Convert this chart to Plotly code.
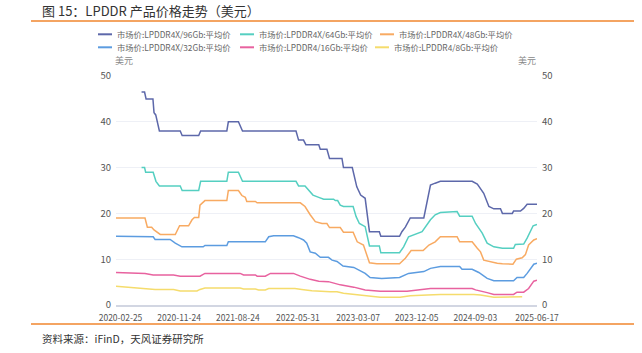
import plotly.graph_objects as go

# ---------------- data ----------------
names = ["市场价:LPDDR4X/96Gb:平均价", "市场价:LPDDR4X/64Gb:平均价", "市场价:LPDDR4X/48Gb:平均价",
         "市场价:LPDDR4X/32Gb:平均价", "市场价:LPDDR4/16Gb:平均价", "市场价:LPDDR4/8Gb:平均价"]
colors = ["#5d68aa", "#55cfc1", "#f8aa62", "#5c9ce0", "#e8629f", "#f5dc6c"]

d96 = ["2020-06-02", "2020-06-16", "2020-06-23", "2020-07-25", "2020-07-30", "2020-08-07", "2020-08-24",
       "2020-11-29", "2020-12-08", "2021-02-23", "2021-03-04", "2021-07-04", "2021-07-11", "2021-08-27",
       "2021-09-15", "2022-05-22", "2022-06-03", "2022-06-26", "2022-07-07", "2022-09-05", "2022-09-12",
       "2022-10-13", "2022-10-25", "2022-12-22", "2022-12-29", "2023-02-08", "2023-03-01", "2023-03-19",
       "2023-04-09", "2023-04-29", "2023-06-14", "2023-06-21", "2023-09-16", "2023-09-27", "2023-10-13",
       "2023-11-05", "2024-01-07", "2024-01-19", "2024-02-07", "2024-02-29", "2024-03-24", "2024-08-19",
       "2024-09-12", "2024-10-12", "2024-11-05", "2024-11-28", "2024-12-29", "2025-01-07", "2025-02-22",
       "2025-02-28", "2025-04-01", "2025-04-16", "2025-05-02", "2025-06-17"]
v96 = [46.5, 46.5, 45, 45, 42, 41.5, 38,
       38, 37, 37, 38, 38, 40, 40,
       38, 38, 36, 36, 35, 35, 34,
       34, 32, 32, 30, 30, 25.8, 24,
       23.3, 16, 16, 15, 15, 16, 17,
       19, 19, 21.8, 26.2, 26.6, 27, 27,
       26.4, 24.4, 21.5, 21, 21, 20, 20,
       20.5, 20.5, 21.1, 22, 22]

d64 = ["2020-06-02", "2020-06-16", "2020-06-21", "2020-07-26", "2020-08-08", "2020-08-24", "2020-11-29",
       "2020-12-08", "2021-02-23", "2021-03-04", "2021-07-04", "2021-07-11", "2021-08-27", "2021-09-15",
       "2022-05-22", "2022-06-03", "2022-07-03", "2022-07-19", "2022-08-09", "2022-09-05", "2022-09-28",
       "2022-11-13", "2022-11-21", "2022-12-02", "2022-12-14", "2022-12-29", "2023-02-12", "2023-02-26",
       "2023-03-13", "2023-04-09", "2023-04-29", "2023-06-14", "2023-06-21", "2023-09-16", "2023-10-05",
       "2023-10-28", "2023-12-30", "2024-02-07", "2024-02-29", "2024-03-24", "2024-06-10", "2024-06-22",
       "2024-08-19", "2024-09-04", "2024-10-05", "2024-10-28", "2024-11-28", "2025-01-07", "2025-02-28",
       "2025-03-08", "2025-04-16", "2025-05-02", "2025-05-30", "2025-06-17"]
v64 = [30, 30, 29, 29, 27, 26, 26,
       25, 25, 27, 27, 29, 29, 27,
       27, 26, 26, 25.1, 24, 23.5, 23.1,
       23.1, 22.8, 22.8, 21.8, 21.5, 21.5, 19.3,
       17.8, 17.1, 12.9, 12.9, 11.4, 11.4, 12.7,
       14.9, 16, 18.6, 19.7, 20.2, 20.4, 19.4,
       19.4, 17.8, 15.7, 13.5, 12.7, 12.4, 12.4,
       13.2, 13.3, 14.6, 17.3, 17.6]

d48 = ["2020-02-04", "2020-06-18", "2020-06-29", "2020-07-19", "2020-07-30", "2020-08-12", "2020-08-28",
       "2020-11-06", "2020-11-26", "2021-01-07", "2021-01-23", "2021-02-03", "2021-02-23", "2021-03-01",
       "2021-03-24", "2021-07-04", "2021-07-11", "2021-08-27", "2021-09-12", "2021-09-28", "2021-10-05",
       "2021-11-14", "2021-11-22", "2022-06-11", "2022-07-03", "2022-07-27", "2022-08-20", "2022-09-20",
       "2022-10-13", "2022-10-25", "2022-12-14", "2022-12-29", "2023-02-12", "2023-03-03", "2023-04-01",
       "2023-04-29", "2023-06-02", "2023-09-16", "2023-10-13", "2023-11-09", "2024-01-04", "2024-01-31",
       "2024-02-29", "2024-03-24", "2024-06-10", "2024-06-22", "2024-08-19", "2024-09-12", "2024-09-27",
       "2024-10-12", "2024-11-28", "2024-12-14", "2025-01-07", "2025-02-25", "2025-03-13", "2025-04-09",
       "2025-04-24", "2025-05-09", "2025-06-02", "2025-06-17"]
v48 = [19, 19, 17, 17, 16.4, 15.9, 15.4,
       15.4, 17.3, 17.3, 18.6, 19.1, 19.1, 21.8,
       22.8, 22.8, 25, 25, 23.9, 23.5, 22.6,
       22.6, 22.3, 22.3, 21.5, 19.7, 18.2, 17.8,
       17.8, 16.9, 16.9, 15.9, 15.9, 13.8, 13.1,
       9.2, 9.0, 9.0, 10.2, 11.9, 11.9, 13.1,
       13.8, 14.9, 14.9, 13.8, 13.8, 12.4, 11.6,
       9.8, 9.2, 9.1, 9.0, 8.9, 10.0, 10.3,
       11.0, 13.1, 14.2, 14.5]

d32 = ["2020-02-04", "2020-07-26", "2020-08-04", "2020-10-13", "2020-11-06", "2020-12-07", "2021-03-16",
       "2021-03-24", "2021-07-04", "2021-07-11", "2021-12-30", "2022-01-15", "2022-02-07", "2022-05-10",
       "2022-06-03", "2022-06-26", "2022-07-11", "2022-07-27", "2022-08-20", "2022-09-12", "2022-10-20",
       "2022-11-06", "2022-11-29", "2022-12-27", "2023-02-15", "2023-03-13", "2023-04-09", "2023-05-02",
       "2023-06-25", "2023-09-16", "2023-10-28", "2024-01-07", "2024-02-07", "2024-03-24", "2024-06-22",
       "2024-07-03", "2024-08-19", "2024-09-19", "2024-10-28", "2024-11-28", "2025-02-28", "2025-03-16",
       "2025-04-16", "2025-05-02", "2025-06-02", "2025-06-17"]
v32 = [15, 14.9, 14.3, 14.3, 13.5, 12.7, 12.7,
       13, 13, 13.8, 13.8, 14.9, 15.1, 15.1,
       14.7, 14.2, 13.5, 11.6, 11.3, 10.4, 10.4,
       9.8, 9.5, 8.5, 8.2, 7.5, 6.9, 6.0,
       5.8, 6.0, 6.9, 7.3, 8.0, 8.4, 8.4,
       7.8, 7.8, 7.1, 5.8, 5.3, 5.3, 6.0,
       6.0, 6.9, 8.9, 9.1]

d16 = ["2020-02-04", "2020-06-18", "2020-07-26", "2020-10-29", "2020-11-29", "2021-03-01", "2021-03-24",
       "2021-09-04", "2021-09-20", "2021-11-14", "2021-11-22", "2021-12-30", "2022-01-23", "2022-05-10",
       "2022-06-11", "2022-07-27", "2022-09-05", "2022-10-20", "2022-12-14", "2023-02-15", "2023-04-09",
       "2023-06-18", "2023-10-21", "2023-12-30", "2024-02-07", "2024-08-19", "2024-09-04", "2024-10-28",
       "2024-11-28", "2025-02-28", "2025-03-16", "2025-04-16", "2025-05-09", "2025-06-02", "2025-06-17"]
v16 = [7.1, 6.9, 6.55, 6.55, 6.3, 6.3, 6.9,
       6.9, 6.55, 6.55, 6.3, 6.3, 6.9, 6.9,
       6.3, 5.6, 5.2, 5.1, 4.4, 3.9, 3.3,
       3.0, 3.0, 3.3, 3.6, 3.6, 3.3, 2.7,
       2.3, 2.3, 2.8, 2.8, 3.6, 5.2, 5.4]

d8 = ["2020-02-04", "2020-03-20", "2020-06-18", "2020-08-04", "2020-10-29", "2020-11-29", "2021-02-15",
      "2021-03-01", "2021-03-24", "2021-09-04", "2021-09-20", "2021-11-14", "2021-11-29", "2021-12-30",
      "2022-01-15", "2022-05-17", "2022-06-18", "2022-08-04", "2022-10-28", "2022-11-29", "2022-12-29",
      "2023-03-01", "2023-04-17", "2023-06-18", "2023-09-19", "2023-11-05", "2024-01-23", "2024-03-24",
      "2024-08-27", "2024-09-27", "2024-11-28", "2025-02-28", "2025-04-09"]
v8 = [4.1, 3.9, 3.6, 3.4, 3.4, 3.05, 3.05,
      3.4, 3.7, 3.7, 3.5, 3.5, 3.3, 3.3,
      3.6, 3.6, 3.4, 3.1, 2.9, 2.9, 2.55,
      2.2, 2.0, 1.7, 1.7, 2.0, 2.2, 2.3,
      2.3, 2.2, 1.7, 1.7, 1.8]

tick_dates = ["2020-02-25", "2020-11-24", "2021-08-24", "2022-05-31",
              "2023-03-07", "2023-12-05", "2024-09-03", "2025-06-17"]
x_range = ["2020-02-04", "2025-06-17"]
y_ticks = [0, 10, 20, 30, 40, 50]

series_x = [d96, d64, d48, d32, d16, d8]
series_y = [v96, v64, v48, v32, v16, v8]

# ---------------- layout geometry ----------------
W, H = 642, 353
L, R, T, B = 116, 537, 76, 305
FONT = "Noto Sans CJK SC"

def px(x):
    return (x - L) / (R - L)

def py(y):
    return (B - y) / (B - T)

fig = go.Figure()
for xs, ys, nm, c in zip(series_x, series_y, names, colors):
    fig.add_trace(go.Scatter(x=xs, y=ys, name=nm, mode="lines",
                             line=dict(color=c, width=1.5), showlegend=False))
# mirror trace for right axis
fig.add_trace(go.Scatter(x=d96, y=v96, yaxis="y2", mode="lines", line=dict(width=0),
                         opacity=0, showlegend=False, hoverinfo="skip"))

fig.update_layout(
    width=W, height=H, autosize=False,
    margin=dict(l=L, r=W - R, t=T, b=H - B, pad=0),
    paper_bgcolor="white", plot_bgcolor="white",
    font=dict(family=FONT, color="#555"),
    xaxis=dict(type="date", range=x_range, tickvals=tick_dates, ticktext=tick_dates,
               showgrid=False, zeroline=False, showline=True, linecolor="#d2d6e2", linewidth=2,
               ticks="", ticklabelstandoff=4, tickfont=dict(size=8.5, color="#555"), fixedrange=True),
    yaxis=dict(range=[0, 50], tickvals=y_ticks, showgrid=True, gridcolor="#eef0f6", gridwidth=1,
               zeroline=False, showline=False, ticks="", ticklabelstandoff=4,
               tickfont=dict(size=9.5, color="#555")),
    yaxis2=dict(range=[0, 50], tickvals=y_ticks, overlaying="y", side="right", showgrid=False,
                zeroline=False, showline=False, ticks="", ticklabelstandoff=4,
                tickfont=dict(size=9.5, color="#555")),
)

shapes = []
annotations = []
# title and separators
annotations.append(dict(text="图 15：LPDDR 产品价格走势（美元）", x=px(40), y=py(11), xref="paper", yref="paper",
                        xanchor="left", yanchor="middle", showarrow=False,
                        font=dict(family=FONT, size=13, color="#333")))
for yy in (21, 324):
    shapes.append(dict(type="line", xref="paper", yref="paper", x0=px(31), x1=px(634), y0=py(yy), y1=py(yy),
                       line=dict(color="#f0862e", width=1.5)))
annotations.append(dict(text="资料来源：iFinD，天风证券研究所", x=px(40), y=py(338), xref="paper", yref="paper",
                        xanchor="left", yanchor="middle", showarrow=False,
                        font=dict(family=FONT, size=10.5, color="#333")))
# unit labels
for xx in (124, 527):
    annotations.append(dict(text="美元", x=px(xx), y=py(61), xref="paper", yref="paper",
                            xanchor="center", yanchor="middle", showarrow=False,
                            font=dict(family=FONT, size=9, color="#888")))
# manual legend
leg_pos = [(115, 34.3), (257, 34.3), (397, 34.3), (115, 47.3), (257, 47.3), (392, 47.3)]
for (tx, ty), nm, c in zip(leg_pos, names, colors):
    shapes.append(dict(type="line", xref="paper", yref="paper", x0=px(tx - 17), x1=px(tx - 3),
                       y0=py(ty), y1=py(ty), line=dict(color=c, width=2)))
    annotations.append(dict(text=nm, x=px(tx), y=py(ty), xref="paper", yref="paper",
                            xanchor="left", yanchor="middle", showarrow=False,
                            font=dict(family=FONT, size=8.3, color="#666")))

fig.update_layout(shapes=shapes, annotations=annotations)
fig.write_html("out.html")
